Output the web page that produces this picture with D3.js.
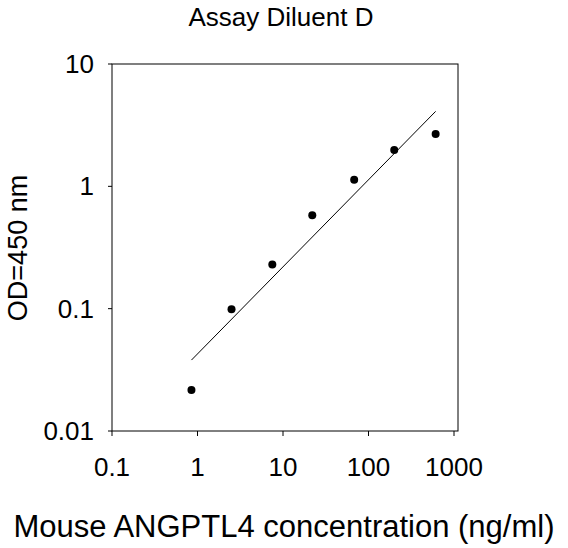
<!DOCTYPE html>
<html><head><meta charset="utf-8">
<script src="https://cdn.jsdelivr.net/npm/d3@7"></script>
<style>
body{margin:0;background:#fff;}
text{font-family:"Liberation Sans",Arial,sans-serif;fill:#000;}
</style></head>
<body><svg id="c" width="568" height="548"></svg>
<script>
// standard curve points (concentration ng/ml, OD)
const conc = [0.85, 2.5, 7.5, 22, 68, 200, 610];
const od = [0.0216, 0.099, 0.23, 0.58, 1.13, 1.98, 2.68];
// fitted line endpoints
const fitConc = [0.85, 610];
const fitOd = [0.038, 4.1];
const xTicks = [0.1, 1, 10, 100, 1000];
const yTicks = [0.01, 0.1, 1, 10];

const svg = d3.select("#c");
const L = 112, R = 458, T = 64, B = 431;

const x = d3.scaleLog().domain([0.1, 1000]).range([L, 454]);
const y = d3.scaleLog().domain([0.01, 10]).range([B, T]);

// frame
svg.append("rect").attr("x", L).attr("y", T).attr("width", R - L).attr("height", B - T)
   .attr("fill", "none").attr("stroke", "#000");

// x ticks
xTicks.forEach(v => {
  svg.append("line").attr("x1", x(v)).attr("x2", x(v)).attr("y1", B).attr("y2", B + 5).attr("stroke", "#000");
  svg.append("text").attr("x", x(v)).attr("y", B + 45).attr("text-anchor", "middle")
     .attr("font-size", 26).text(v);
});
// y ticks
yTicks.forEach(v => {
  svg.append("line").attr("x1", L - 4).attr("x2", L).attr("y1", y(v)).attr("y2", y(v)).attr("stroke", "#000");
  svg.append("text").attr("x", L - 18).attr("y", y(v) + 9).attr("text-anchor", "end")
     .attr("font-size", 26).text(v);
});

// fit line
const line = d3.line().x(d => x(d[0])).y(d => y(d[1]));
svg.append("path").datum(d3.zip(fitConc, fitOd)).attr("d", line)
   .attr("fill", "none").attr("stroke", "#000").attr("stroke-width", 1);

// points
svg.selectAll("circle.p").data(d3.zip(conc, od)).join("circle")
   .attr("cx", d => x(d[0])).attr("cy", d => y(d[1])).attr("r", 4).attr("fill", "#000");

svg.append("text").attr("x", 281).attr("y", 26).attr("text-anchor", "middle")
   .attr("font-size", 26).text("Assay Diluent D");
svg.append("text").attr("x", 284).attr("y", 537).attr("text-anchor", "middle")
   .attr("font-size", 31).text("Mouse ANGPTL4 concentration (ng/ml)");
svg.append("text").attr("transform", "translate(27,248) rotate(-90)").attr("text-anchor", "middle")
   .attr("font-size", 27).text("OD=450 nm");
</script></body></html>
